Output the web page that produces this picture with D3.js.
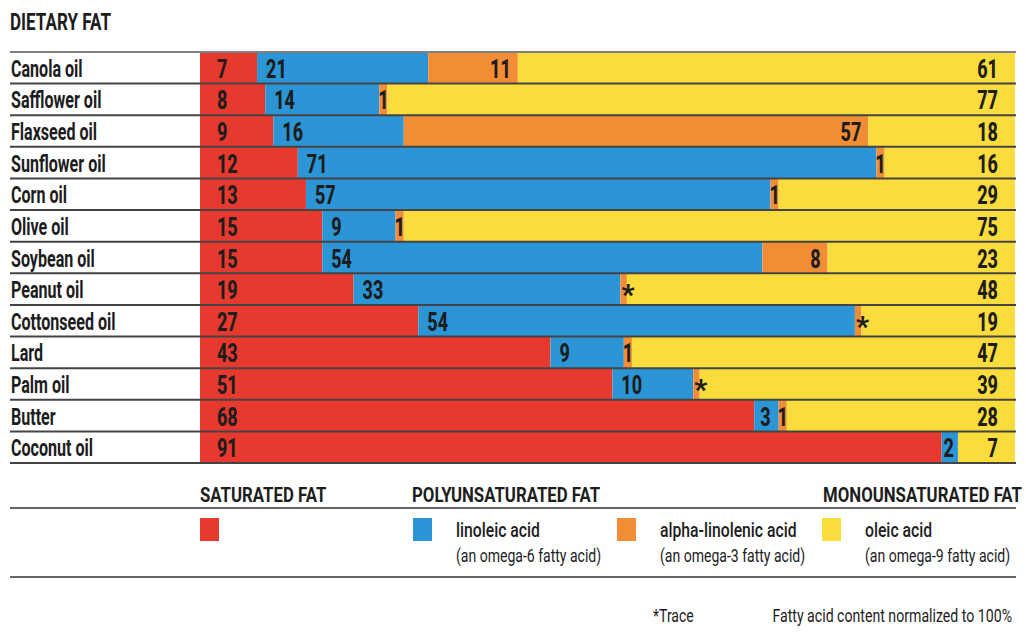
<!DOCTYPE html>
<html>
<head>
<meta charset="utf-8">
<script src="https://cdn.jsdelivr.net/npm/d3@7"></script>
<style>
  html, body { margin: 0; padding: 0; background: #fff; }
  svg { display: block; font-family: Roboto, "Liberation Sans", Arial, sans-serif; }
</style>
</head>
<body>
<svg id="chart" width="1026" height="637"></svg>
<script>
// Fatty-acid make-up of common cooking fats (percent of total fatty acids)
const oils = ["Canola oil", "Safflower oil", "Flaxseed oil", "Sunflower oil", "Corn oil",
  "Olive oil", "Soybean oil", "Peanut oil", "Cottonseed oil", "Lard", "Palm oil", "Butter", "Coconut oil"];
const TRACE = 0.8; // trace amounts, shown as "*"
const saturated      = [7, 8, 9, 12, 13, 15, 15, 19, 27, 43, 51, 68, 91];
const linoleic       = [21, 14, 16, 71, 57, 9, 54, 33, 54, 9, 10, 3, 2];
const alphaLinolenic = [11, 1, 57, 1, 1, 1, 8, TRACE, TRACE, 1, TRACE, 1, 0];
const oleic          = [61, 77, 18, 16, 29, 75, 23, 48, 19, 47, 39, 28, 7];

const keys = ["sat", "lin", "ala", "ole"];
const colors = { sat: "#e8392f", lin: "#2b95d5", ala: "#f28d36", ole: "#fadc3c" };

const rows = oils.map((name, i) => ({
  name, sat: saturated[i], lin: linoleic[i], ala: alphaLinolenic[i], ole: oleic[i]
}));

const svg = d3.select("#chart");
const ink = "#1d1d1d";

const x = d3.scaleLinear().domain([0, 1]).range([200, 1015]);
const y = d3.scaleBand().domain(oils).range([52, 463]).paddingInner(0).paddingOuter(0);

// condensed text: horizontally squeezed glyphs
function label(parent, px, py, str, o) {
  const g = parent.append("g").attr("transform", `translate(${px},${py}) scale(${o.sx},1)`);
  g.append("text")
    .attr("text-anchor", o.anchor || "start")
    .attr("font-size", o.size)
    .attr("font-weight", o.weight || 700)
    .attr("fill", ink)
    .text(str);
  return g;
}

// title
label(svg, 10, 30, "DIETARY FAT", { size: 24, sx: 0.71 });

// stacked, normalised bars
const series = d3.stack().keys(keys).offset(d3.stackOffsetExpand)(rows);

const layers = svg.append("g").selectAll("g").data(series).join("g")
  .attr("fill", d => colors[d.key]);
layers.selectAll("rect").data(d => d).join("rect")
  .attr("x", d => x(d[0]))
  .attr("y", d => y(d.data.name))
  .attr("width", d => Math.max(0, x(d[1]) - x(d[0])))
  .attr("height", y.bandwidth());

// row separators
const step = y.step();
svg.append("g").selectAll("line").data(d3.range(oils.length + 1)).join("line")
  .attr("x1", 10).attr("x2", 1016)
  .attr("y1", i => 52 + i * step).attr("y2", i => 52 + i * step)
  .attr("stroke", i => i === 0 ? "#808080" : "#444")
  .attr("stroke-width", 2);

// oil names
const names = svg.append("g");
oils.forEach(n => label(names, 11, y(n) + y.bandwidth() / 2 + 9, n, { size: 24, sx: 0.67 }));

// segment values
const vals = svg.append("g");
const numOpt = { size: 25, sx: 0.72, weight: 800 };
series.forEach(s => {
  s.forEach(d => {
    const v = d.data[s.key];
    const x0 = x(d[0]), x1 = x(d[1]);
    const cy = y(d.data.name) + y.bandwidth() / 2;
    const base = cy + 10;
    if (s.key === "sat") {
      label(vals, x0 + 17, base, v, numOpt);
    } else if (s.key === "lin") {
      if (v < 5) label(vals, (x0 + x1) / 2 - 1, base, v, { ...numOpt, anchor: "middle" });
      else label(vals, x0 + 9, base, v, numOpt);
    } else if (s.key === "ala") {
      if (v === 0) return;
      if (v === TRACE) label(vals, x0 + 1, cy + 15, "*", { size: 28, sx: 1, weight: 900 });
      else if (v <= 2) label(vals, (x0 + x1) / 2, base, v, { ...numOpt, anchor: "middle" });
      else label(vals, x1 - 7, base, v, { ...numOpt, anchor: "end" });
    } else {
      label(vals, x1 - 17, base, v, { ...numOpt, anchor: "end" });
    }
  });
});

// legend
const leg = svg.append("g");
const headOpt = { size: 21, sx: 0.8 };
label(leg, 200, 502, "SATURATED FAT", headOpt);
label(leg, 412, 502, "POLYUNSATURATED FAT", headOpt);
label(leg, 1022, 502, "MONOUNSATURATED FAT", { ...headOpt, anchor: "end" });

leg.selectAll("line").data([508, 577]).join("line")
  .attr("x1", 10).attr("x2", 1016)
  .attr("y1", d => d).attr("y2", d => d)
  .attr("stroke", "#666").attr("stroke-width", 2);

const legendItems = [
  { key: "sat", x: 200, name: "", sub: "" },
  { key: "lin", x: 413, name: "linoleic acid", sub: "(an omega-6 fatty acid)" },
  { key: "ala", x: 617, name: "alpha-linolenic acid", sub: "(an omega-3 fatty acid)" },
  { key: "ole", x: 822, name: "oleic acid", sub: "(an omega-9 fatty acid)" }
];
legendItems.forEach(it => {
  leg.append("rect").attr("x", it.x).attr("y", 518).attr("width", 19).attr("height", 23)
    .attr("fill", colors[it.key]);
  if (it.name) {
    label(leg, it.x + 43, 537, it.name, { size: 21, weight: 500, sx: 0.75 });
    label(leg, it.x + 43, 562, it.sub, { size: 18, weight: 400, sx: 0.78 });
  }
});

// footnotes
label(svg, 653, 622, "*Trace", { size: 18, weight: 400, sx: 0.78 });
label(svg, 1012, 622, "Fatty acid content normalized to 100%", { size: 18, weight: 400, sx: 0.785, anchor: "end" });
</script>
</body>
</html>
